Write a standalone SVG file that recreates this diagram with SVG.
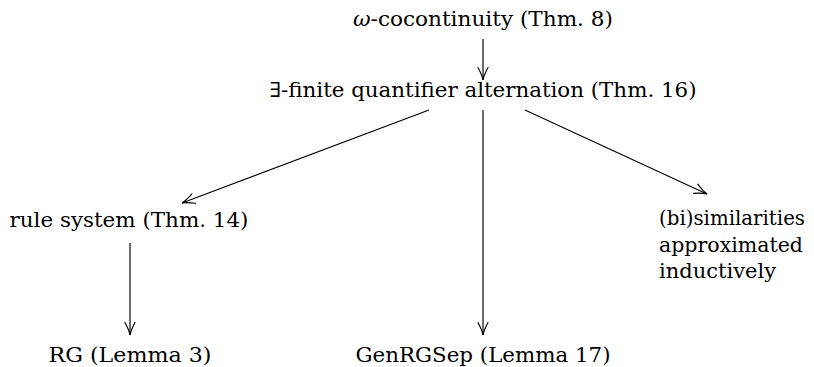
<svg xmlns="http://www.w3.org/2000/svg" width="814" height="367" viewBox="0 0 814 367">
<style>
text { font-family: 'DejaVu Serif', serif; font-size: 21px; fill: #000; }
.c { text-anchor: middle; }
.edge { stroke: #000; stroke-width: 1.15; fill: none; marker-end: url(#tip); }
</style>
<defs>
<marker id="tip" markerUnits="userSpaceOnUse" markerWidth="20" markerHeight="16" viewBox="-14 -8 16 16" refX="0" refY="0" orient="auto" overflow="visible">
<path d="M -12.5,-5 Q -5,-1 0,0 Q -5,1 -12.5,5" fill="none" stroke="#000" stroke-width="1.15" stroke-linecap="round"/>
</marker>
</defs>
<rect width="814" height="367" fill="#fff"/>
<g id="connectors">
<line class="edge" x1="483" y1="39" x2="483" y2="80"/>
<line class="edge" x1="429" y1="110" x2="182" y2="203"/>
<line class="edge" x1="483" y1="110" x2="483" y2="335"/>
<line class="edge" x1="525" y1="110" x2="707" y2="194"/>
<line class="edge" x1="130" y1="243" x2="130" y2="335"/>
</g>
<g id="n-cocont">
<text class="c" x="483" y="26" textLength="260" lengthAdjust="spacingAndGlyphs"><tspan font-style="italic">ω</tspan>-cocontinuity (Thm. 8)</text>
</g>
<g id="n-exists">
<text class="c" x="483" y="97" textLength="427" lengthAdjust="spacingAndGlyphs">∃-finite quantifier alternation (Thm. 16)</text>
</g>
<g id="n-rule">
<text class="c" x="129" y="227" textLength="239" lengthAdjust="spacingAndGlyphs">rule system (Thm. 14)</text>
</g>
<g id="n-bisim">
<text x="659" y="225" textLength="146" lengthAdjust="spacingAndGlyphs">(bi)similarities</text>
<text x="659" y="252" textLength="144" lengthAdjust="spacingAndGlyphs">approximated</text>
<text x="659" y="278" textLength="117" lengthAdjust="spacingAndGlyphs">inductively</text>
</g>
<g id="n-rg">
<text class="c" x="130" y="362" textLength="163" lengthAdjust="spacingAndGlyphs">RG (Lemma 3)</text>
</g>
<g id="n-genrgsep">
<text class="c" x="483" y="362" textLength="255" lengthAdjust="spacingAndGlyphs">GenRGSep (Lemma 17)</text>
</g>
</svg>
